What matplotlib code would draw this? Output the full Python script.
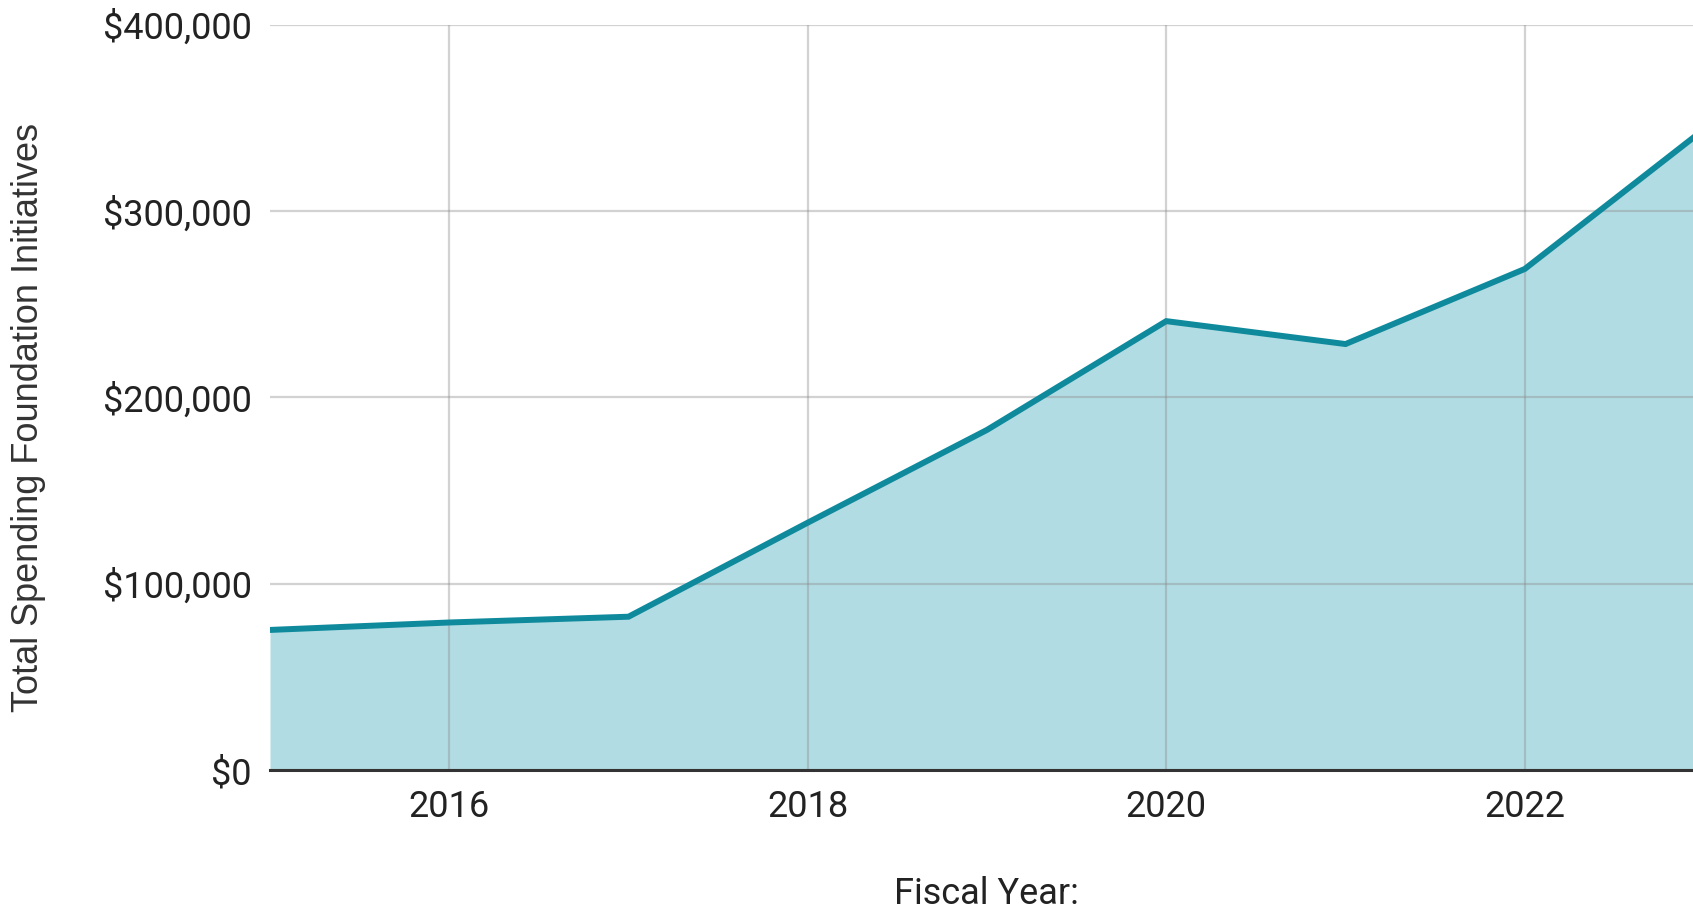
import numpy as np
import matplotlib.pyplot as plt
from matplotlib.ticker import FuncFormatter

plt.rcParams['font.family'] = ['Roboto', 'DejaVu Sans']

years = [2015, 2016, 2017, 2018, 2019, 2020, 2021, 2022, 2023]
spending = [75200, 79200, 82300, 132800, 182600, 241000, 228700, 269000, 344000]
xticks = [2016, 2018, 2020, 2022]
yticks = [0, 100000, 200000, 300000, 400000]

line_col = '#0f8a9d'
fill_col = '#b2dce3'

W, H = 1693, 913
fig = plt.figure(figsize=(W / 100, H / 100), dpi=100)
# the plot runs a little past the right edge of the canvas
ax = fig.add_axes([270 / W, 1 - 770 / H, 1434 / W, 745 / H])

ax.fill_between(years, spending, 0, color=fill_col, lw=0, zorder=1)
ax.plot(years, spending, color=line_col, lw=4.3, solid_joinstyle='miter', zorder=4)

ax.set_xlim(2015, 2023)
ax.set_ylim(0, 400000)
ax.set_xticks(xticks)
ax.set_yticks(yticks)
ax.yaxis.set_major_formatter(FuncFormatter(lambda v, p: '${:,.0f}'.format(v)))

ax.grid(True, color='#8a8a8a', alpha=0.38, lw=1.6, zorder=2)
for s in ['top', 'right', 'left']:
    ax.spines[s].set_visible(False)
ax.spines['bottom'].set_color('#333333')
ax.spines['bottom'].set_linewidth(2.2)
ax.spines['bottom'].set_zorder(5)

ax.tick_params(axis='both', length=0, labelsize=26, labelcolor='#222222')
ax.tick_params(axis='y', pad=13)
ax.tick_params(axis='x', pad=14)

fig.text(29 / W, 1 - 417 / H, 'Total Spending Foundation Initiatives',
         rotation=90, ha='center', va='center', fontsize=26, color='#333333',
         family=['Liberation Sans', 'DejaVu Sans'])
fig.text(986 / W, 1 - 894 / H, 'Fiscal Year:', ha='center', va='center',
         fontsize=26, color='#222222')

fig.savefig('out.png', dpi=100, facecolor='white')
